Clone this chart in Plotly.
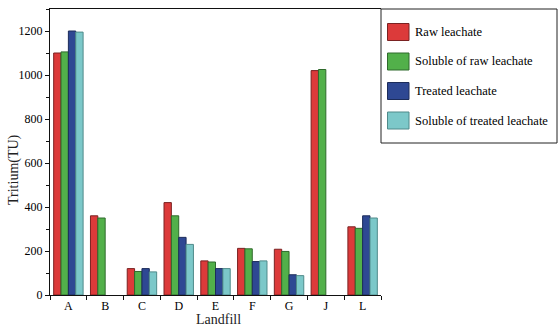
import plotly.graph_objects as go

# Landfill sites and tritium concentrations (TU)
landfills = ["A", "B", "C", "D", "E", "F", "G", "J", "L"]
raw = [1100, 360, 120, 420, 155, 212, 208, 1020, 310]
soluble_raw = [1105, 350, 107, 360, 150, 210, 198, 1025, 303]
treated = [1200, None, 120, 262, 120, 152, 92, None, 360]
soluble_treated = [1195, None, 105, 230, 120, 155, 88, None, 350]

series_names = ["Raw leachate", "Soluble of raw leachate", "Treated leachate",
                "Soluble of treated leachate"]
series_values = [raw, soluble_raw, treated, soluble_treated]
colors = ["#dc3a3a", "#52b04a", "#2e4893", "#7cc8c9"]
edges = ["#7a2222", "#2f6a2c", "#1c2c5a", "#4f8a8a"]

W, H = 559, 327
L_M, R_M, T_M, B_M = 50, 178, 9, 32
FONT = "Liberation Serif"

fig = go.Figure()
for name, vals, c, e in zip(series_names, series_values, colors, edges):
    fig.add_trace(go.Bar(x=landfills, y=vals, name=name,
                         marker=dict(color=c, line=dict(color=e, width=1)),
                         showlegend=False))

# Helpers: pixel position -> plot-area paper coordinates
pw, ph = W - L_M - R_M, H - T_M - B_M
def px(x):
    return (x - L_M) / pw
def py(y):
    return (H - B_M - y) / ph

# Custom legend box with larger swatches
shapes = [dict(type="rect", xref="paper", yref="paper",
               x0=px(381), x1=px(557), y0=py(143), y1=py(9),
               line=dict(color="#222", width=1), fillcolor="white", layer="below")]
annotations = []
for i, (name, c, e) in enumerate(zip(series_names, colors, edges)):
    top = 23.5 + i * 29.5
    shapes.append(dict(type="rect", xref="paper", yref="paper",
                       x0=px(387.5), x1=px(409), y0=py(top + 17), y1=py(top),
                       line=dict(color=e, width=1), fillcolor=c))
    annotations.append(dict(xref="paper", yref="paper", x=px(413), y=py(top + 8.5),
                            text=name, showarrow=False, xanchor="left", yanchor="middle",
                            font=dict(family=FONT, size=12.5, color="black")))

# Axis titles
annotations.append(dict(xref="paper", yref="paper", x=px(218), y=py(319),
                        text="Landfill", showarrow=False, xanchor="center", yanchor="middle",
                        font=dict(family=FONT, size=14, color="#222")))
annotations.append(dict(xref="paper", yref="paper", x=px(14), y=py(170),
                        text="Tritium(TU)", showarrow=False, textangle=-90,
                        xanchor="center", yanchor="middle",
                        font=dict(family=FONT, size=14, color="#222")))

fig.update_layout(
    width=W, height=H,
    margin=dict(l=L_M, r=R_M, t=T_M, b=B_M),
    paper_bgcolor="white", plot_bgcolor="white",
    barmode="group", bargap=0.2, bargroupgap=0,
    font=dict(family=FONT, size=12, color="black"),
    shapes=shapes, annotations=annotations,
    xaxis=dict(
        type="category", automargin=False,
        showline=True, linecolor="#111", linewidth=1, mirror=True,
        ticks="outside", tickson="boundaries", ticklen=4, tickcolor="#111",
        showgrid=False, tickfont=dict(family=FONT, size=12, color="black"),
    ),
    yaxis=dict(
        range=[0, 1300], automargin=False,
        showline=True, linecolor="#111", linewidth=1,
        ticks="outside", ticklen=4, tickcolor="#111", dtick=200, showgrid=False,
        zeroline=False, tickfont=dict(family=FONT, size=12, color="black"),
        minor=dict(dtick=100, ticks="outside", ticklen=3, tickcolor="#111", showgrid=False),
    ),
)

fig.write_html("out.html")
